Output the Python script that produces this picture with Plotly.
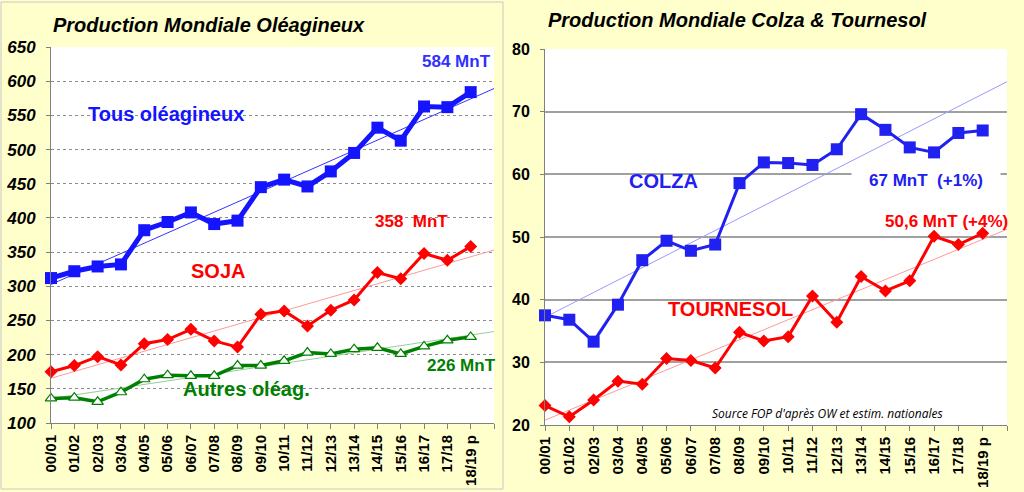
import numpy as np
import plotly.graph_objects as go

W, H = 1024, 492

seasons = ["00/01", "01/02", "02/03", "03/04", "04/05", "05/06", "06/07", "07/08", "08/09",
           "09/10", "10/11", "11/12", "12/13", "13/14", "14/15", "15/16", "16/17", "17/18", "18/19 p"]
tous = [312, 322, 329, 332, 382, 394, 408, 391, 396, 445, 456, 446, 468, 495, 532, 513, 563, 562, 584]
soja = [175, 184, 197, 185, 216, 222, 237, 220, 211, 259, 264, 242, 265, 280, 320, 311, 348, 338, 358]
autres = [136, 137, 131, 145, 164, 170, 169, 169, 184, 184, 191, 203, 201, 208, 210, 201, 212, 221, 226]
colza = [37.5, 36.8, 33.3, 39.2, 46.3, 49.4, 47.8, 48.8, 58.6, 61.9, 61.8, 61.5, 64.0, 69.6, 67.1, 64.3, 63.5, 66.6, 67.0]
tournesol = [23.1, 21.3, 24.0, 27.0, 26.5, 30.6, 30.3, 29.1, 34.8, 33.4, 34.1, 40.6, 36.4, 43.7, 41.4, 43.0, 50.1, 48.8, 50.6]

left_yticks = list(range(100, 651, 50))
right_yticks = list(range(20, 81, 10))

FONT = "Liberation Sans, Arial, sans-serif"
BLUE = "#1414FF"
RED = "#FF0000"
GREEN = "#008000"
BG = "#FFFFCC"

xi = list(range(len(seasons)))
xt = [0, len(seasons)]


def trend(vals):
    a, b = np.polyfit(xi, vals, 1)
    return [a * x + b for x in xt]


def px(x):
    return x / W


def py(y):
    return 1 - y / H


fig = go.Figure()

# Left chart
fig.add_trace(go.Scatter(x=xt, y=trend(tous), mode="lines", line=dict(color="#3333FF", width=1),
                         xaxis="x", yaxis="y", hoverinfo="skip"))
fig.add_trace(go.Scatter(x=xt, y=trend(soja), mode="lines", line=dict(color="#FF9999", width=1),
                         xaxis="x", yaxis="y", hoverinfo="skip"))
fig.add_trace(go.Scatter(x=xt, y=trend(autres), mode="lines", line=dict(color="#99CC99", width=1),
                         xaxis="x", yaxis="y", hoverinfo="skip"))
fig.add_trace(go.Scatter(x=xi, y=tous, mode="lines+markers", cliponaxis=False,
                         line=dict(color=BLUE, width=5),
                         marker=dict(symbol="square", size=12, color=BLUE),
                         xaxis="x", yaxis="y", name="Tous oléagineux"))
fig.add_trace(go.Scatter(x=xi, y=soja, mode="lines+markers", cliponaxis=False,
                         line=dict(color=RED, width=3),
                         marker=dict(symbol="diamond", size=10, color=RED),
                         xaxis="x", yaxis="y", name="SOJA"))
fig.add_trace(go.Scatter(x=xi, y=autres, mode="lines+markers", cliponaxis=False,
                         line=dict(color=GREEN, width=3.5),
                         marker=dict(symbol="triangle-up", size=10, color="white",
                                     line=dict(color=GREEN, width=1.2)),
                         xaxis="x", yaxis="y", name="Autres oléag."))

# Right chart
fig.add_trace(go.Scatter(x=xt, y=trend(colza), mode="lines", line=dict(color="#9999FF", width=1),
                         xaxis="x2", yaxis="y2", hoverinfo="skip"))
fig.add_trace(go.Scatter(x=xt, y=trend(tournesol), mode="lines", line=dict(color="#FF9999", width=1),
                         xaxis="x2", yaxis="y2", hoverinfo="skip"))
fig.add_trace(go.Scatter(x=xi, y=colza, mode="lines+markers", cliponaxis=False,
                         line=dict(color="#2020F0", width=3),
                         marker=dict(symbol="square", size=12, color="#2020F0"),
                         xaxis="x2", yaxis="y2", name="COLZA"))
fig.add_trace(go.Scatter(x=xi, y=tournesol, mode="lines+markers", cliponaxis=False,
                         line=dict(color=RED, width=3),
                         marker=dict(symbol="diamond", size=10, color=RED),
                         xaxis="x2", yaxis="y2", name="TOURNESOL"))

xtickvals = list(range(len(seasons) + 1))
xticktext = seasons + [""]

common_x = dict(range=[0, len(seasons)], tickmode="array", tickvals=xtickvals, ticktext=xticktext,
                tickangle=-90, ticks="outside", ticklen=5, tickcolor="#808080", automargin=False,
                showline=True, linecolor="#808080", linewidth=1, showgrid=False, zeroline=False,
                tickfont=dict(family=FONT, size=15, color="black", weight="bold"))

fig.update_layout(
    template="none",
    width=W, height=H, autosize=False,
    margin=dict(l=0, r=0, t=0, b=0, pad=0),
    paper_bgcolor=BG, plot_bgcolor="white",
    showlegend=False,
    xaxis=dict(domain=[px(51), px(494)], anchor="y", **common_x),
    yaxis=dict(domain=[py(423), py(47)], anchor="x", range=[100, 650], tickvals=left_yticks,
               ticks="outside", ticklen=4, tickcolor="#808080", automargin=False, ticklabelstandoff=7,
               showline=True, linecolor="#808080", linewidth=1,
               showgrid=True, gridcolor="#8C8C8C", griddash="dot", gridwidth=1, zeroline=False,
               tickfont=dict(family=FONT, size=17, color="black", weight="bold", style="italic")),
    xaxis2=dict(domain=[px(545), px(1007)], anchor="y2", **common_x),
    yaxis2=dict(domain=[py(425), py(49)], anchor="x2", range=[20, 80], tickvals=right_yticks,
                ticks="outside", ticklen=4, tickcolor="#808080", automargin=False, ticklabelstandoff=7,
                showline=True, linecolor="#808080", linewidth=1,
                showgrid=True, gridcolor="#A0A0A0", gridwidth=1.5, zeroline=False,
                tickfont=dict(family=FONT, size=16, color="black", weight="bold")),
)

# panel border of the left chart
fig.add_shape(type="rect", xref="paper", yref="paper", x0=px(1), x1=px(503), y0=py(489), y1=py(2),
              line=dict(color="#C8C8C8", width=1), fillcolor="rgba(0,0,0,0)", layer="below")


def label(text, x, y, color, size, xanchor="center", italic=False, bold=True, bg=None, width=None, family=FONT):
    t = text
    if bold:
        t = "<b>" + t + "</b>"
    if italic:
        t = "<i>" + t + "</i>"
    kw = {}
    if bg:
        kw["bgcolor"] = bg
    if width:
        kw["width"] = width
    fig.add_annotation(xref="paper", yref="paper", x=px(x), y=py(y), text=t, showarrow=False,
                       xanchor=xanchor, yanchor="middle", font=dict(family=family, size=size, color=color), **kw)


label("Production Mondiale Oléagineux", 51, 25, "black", 20, xanchor="left", italic=True)
label("Production Mondiale Colza &amp; Tournesol", 546, 20, "black", 20, xanchor="left", italic=True)

label("584 MnT", 456, 61, "#3030FF", 17)
label("Tous oléagineux", 166, 114, BLUE, 20)
label("358  MnT", 411, 222, RED, 17)
label("SOJA", 218, 271, RED, 20)
label("226 MnT", 461, 365, GREEN, 17)
label("Autres oléag.", 246, 389, GREEN, 20)

label("COLZA", 663, 181, "#2020F0", 20)
label("67 MnT  (+1%)", 926, 180, "#2020F0", 17, bg="white", width=146)
label("50,6 MnT (+4%)", 946, 222, RED, 17)
label("TOURNESOL", 730, 309, RED, 20)
label("Source FOP d'après OW et estim. nationales", 827, 413, "black", 12, italic=True, bold=False,
      family="Open Sans, sans-serif")

fig.write_html("out.html", config={"displayModeBar": False},
               post_script="document.body.style.margin='0';document.body.style.background='%s';" % BG)
